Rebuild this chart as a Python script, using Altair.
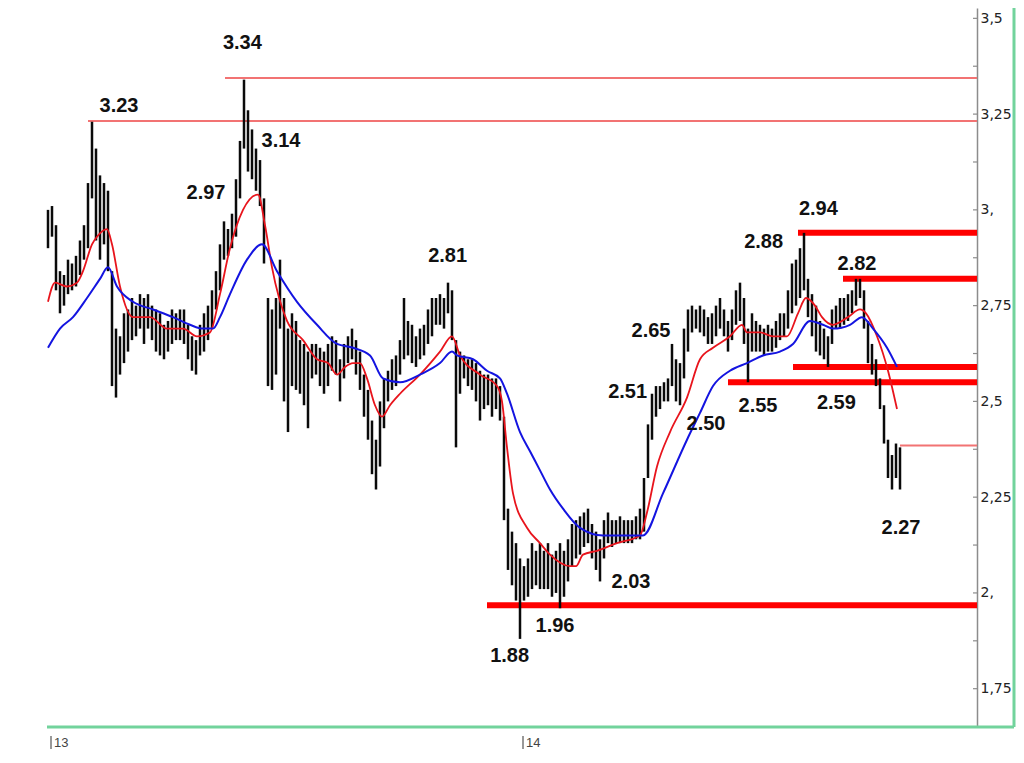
import altair as alt
import pandas as pd

# ---- price bars (one bar per slot, high / low) ----
bar_high = [3.00, 3.01, 2.96, 2.84, 2.83, 2.87, 2.86, 2.88, 2.92, 2.96,
            3.07, 3.23, 3.16, 3.09, 3.07, 3.05, 2.84, 2.69, 2.67, 2.73,
            2.74, 2.77, 2.75, 2.78, 2.77, 2.78, 2.75, 2.74, 2.73, 2.70,
            2.71, 2.74, 2.73, 2.74, 2.74, 2.70, 2.67, 2.66, 2.70, 2.73,
            2.75, 2.79, 2.84, 2.91, 2.97, 2.95, 2.99, 3.08, 3.18, 3.34,
            3.26, 3.21, 3.16, 3.13, 3.03, 2.77, 2.74, 2.77, 2.87, 2.77,
            2.69, 2.73, 2.71, 2.66, 2.65, 2.63, 2.65, 2.65, 2.64, 2.63,
            2.65, 2.67, 2.66, 2.61, 2.65, 2.67, 2.69, 2.66, 2.63, 2.57,
            2.53, 2.45, 2.40, 2.50, 2.56, 2.58, 2.61, 2.62, 2.66, 2.77,
            2.71, 2.70, 2.67, 2.69, 2.70, 2.74, 2.77, 2.77, 2.78, 2.77,
            2.81, 2.79, 2.66, 2.63, 2.62, 2.61, 2.61, 2.60, 2.58, 2.57,
            2.57, 2.56, 2.56, 2.54, 2.46, 2.22, 2.16, 2.13, 2.09, 2.07,
            2.09, 2.13, 2.11, 2.13, 2.11, 2.13, 2.10, 2.11, 2.13, 2.11,
            2.14, 2.18, 2.19, 2.20, 2.21, 2.22, 2.18, 2.16, 2.14, 2.19,
            2.21, 2.19, 2.19, 2.20, 2.19, 2.19, 2.19, 2.20, 2.22, 2.30,
            2.44, 2.52, 2.54, 2.54, 2.55, 2.56, 2.65, 2.61, 2.60, 2.69,
            2.74, 2.75, 2.74, 2.75, 2.74, 2.72, 2.73, 2.75, 2.77, 2.74,
            2.71, 2.74, 2.79, 2.81, 2.77, 2.69, 2.73, 2.71, 2.70, 2.69,
            2.70, 2.69, 2.71, 2.73, 2.73, 2.79, 2.86, 2.87, 2.90, 2.94,
            2.82, 2.78, 2.75, 2.71, 2.69, 2.67, 2.74, 2.75, 2.77, 2.77,
            2.78, 2.79, 2.82, 2.82, 2.79, 2.71, 2.65, 2.61, 2.56, 2.49,
            2.40, 2.36, 2.39, 2.38]
bar_low = [2.90, 2.93, 2.79, 2.73, 2.75, 2.78, 2.79, 2.80, 2.83, 2.87,
           2.90, 3.03, 2.92, 2.87, 2.91, 2.84, 2.54, 2.51, 2.57, 2.60,
           2.63, 2.66, 2.67, 2.69, 2.65, 2.69, 2.66, 2.63, 2.62, 2.61,
           2.63, 2.65, 2.66, 2.66, 2.65, 2.61, 2.58, 2.57, 2.62, 2.63,
           2.66, 2.69, 2.74, 2.79, 2.87, 2.88, 2.90, 2.93, 3.03, 3.16,
           3.10, 3.08, 3.05, 3.01, 2.86, 2.54, 2.53, 2.57, 2.69, 2.50,
           2.42, 2.54, 2.53, 2.52, 2.49, 2.43, 2.56, 2.57, 2.54, 2.52,
           2.54, 2.58, 2.57, 2.50, 2.56, 2.60, 2.61, 2.57, 2.53, 2.46,
           2.40, 2.31, 2.27, 2.33, 2.43, 2.50, 2.53, 2.54, 2.57, 2.61,
           2.62, 2.60, 2.59, 2.61, 2.62, 2.65, 2.67, 2.70, 2.70, 2.69,
           2.73, 2.66, 2.38, 2.52, 2.56, 2.54, 2.53, 2.50, 2.45, 2.48,
           2.49, 2.46, 2.48, 2.45, 2.19, 2.06, 2.02, 1.98, 1.88, 1.98,
           1.99, 2.01, 2.02, 2.01, 2.01, 2.01, 1.99, 2.00, 1.96, 1.99,
           2.03, 2.07, 2.09, 2.10, 2.12, 2.13, 2.09, 2.06, 2.03, 2.09,
           2.13, 2.12, 2.13, 2.13, 2.13, 2.13, 2.13, 2.14, 2.14, 2.16,
           2.30, 2.40, 2.46, 2.48, 2.50, 2.50, 2.54, 2.50, 2.49, 2.56,
           2.63, 2.68, 2.69, 2.68, 2.67, 2.65, 2.65, 2.67, 2.69, 2.67,
           2.63, 2.66, 2.70, 2.71, 2.65, 2.55, 2.63, 2.63, 2.63, 2.62,
           2.63, 2.63, 2.64, 2.66, 2.67, 2.69, 2.73, 2.75, 2.77, 2.79,
           2.72, 2.67, 2.63, 2.62, 2.61, 2.59, 2.65, 2.69, 2.69, 2.70,
           2.71, 2.73, 2.75, 2.77, 2.69, 2.60, 2.57, 2.54, 2.48, 2.39,
           2.30, 2.27, 2.30, 2.27]

# ---- moving averages (bar slot, value) ----
red_ma_idx = [0, 1.75, 4.75, 7.25, 8.75, 11, 12.25, 14.75, 16, 18, 21.25, 25.5,
              29.75, 33.75, 37.25, 40.5, 43, 45.5, 48.75, 52.5, 54.25, 56,
              59.75, 63.75, 67.25, 70, 72.25, 74.25, 76.25, 78, 79.75, 81.75,
              83.5, 85.5, 88, 93, 98, 101, 103, 108, 112.25, 113.5, 114.75,
              116.25, 119.75, 123, 125.5, 130.5, 132, 133.75, 137.25, 142.25,
              148, 149.75, 152.25, 155.5, 159.75, 163, 166.25, 170.5, 173.5,
              174.75, 178, 181.25, 184.75, 187.5, 189.5, 191.75, 193.5,
              196.25, 200, 203, 204.5, 207.25, 210, 212.25]
red_ma = [2.76, 2.81, 2.80, 2.81, 2.84, 2.91, 2.93, 2.95, 2.91, 2.80, 2.72, 2.72,
          2.69, 2.69, 2.67, 2.68, 2.78, 2.90, 3.00, 3.04, 2.96, 2.85,
          2.71, 2.66, 2.61, 2.60, 2.57, 2.59, 2.60, 2.60, 2.56, 2.49,
          2.46, 2.49, 2.52, 2.57, 2.63, 2.67, 2.62, 2.57, 2.54, 2.50, 2.38,
          2.26, 2.17, 2.13, 2.10, 2.07, 2.07, 2.10, 2.11, 2.13,
          2.15, 2.21, 2.33, 2.42, 2.51, 2.61, 2.64, 2.67, 2.70,
          2.68, 2.68, 2.67, 2.67, 2.73, 2.77, 2.75, 2.72,
          2.70, 2.72, 2.74, 2.73, 2.67, 2.58, 2.48]
blue_ma_idx = [0, 3, 6.25, 9.75, 13, 15, 17.25, 21.25, 26.25, 31.25, 35.5, 38.75,
               41.25, 43, 45.5, 49.75, 53.5, 57.25, 62.25, 67.25, 72.25, 76.25,
               80.5, 83.75, 88, 93, 98, 101, 102.25, 106.25, 109.75, 113,
               114.75, 118, 120.5, 123, 125.5, 128.75, 133, 138.75, 148.75,
               153.75, 159.75, 163, 166.25, 170.5, 174.75, 178.75, 183, 186.25,
               190.5, 193.75, 196.25, 200.5, 203.5, 206.25, 209.75, 212.25]
blue_ma = [2.64, 2.69, 2.72, 2.77, 2.82, 2.85, 2.80, 2.76, 2.74, 2.72, 2.70, 2.69,
           2.69, 2.72, 2.78, 2.87, 2.91, 2.84, 2.76, 2.70, 2.65, 2.64,
           2.62, 2.56, 2.55, 2.57, 2.60, 2.63, 2.62, 2.61, 2.58, 2.56,
           2.52, 2.42, 2.37, 2.32, 2.27, 2.22, 2.17, 2.15, 2.15,
           2.26, 2.40, 2.47, 2.54, 2.58, 2.60, 2.62, 2.63, 2.65,
           2.71, 2.70, 2.69, 2.70, 2.72, 2.69, 2.64, 2.59]

# ---- support / resistance levels ----
level_price = [3.344, 3.232, 2.94, 2.82, 2.59, 2.55, 1.968, 2.385]
level_start = [44.25, 10, 187.5, 198.75, 186.25, 170, 109.75, 213]
level_heavy = [False, False, True, True, True, True, True, False]

# ---- annotations ----
ann_text = ["3.34", "3.23", "3.14", "2.97", "2.81", "2.94", "2.88", "2.82", "2.65",
            "2.51", "2.50", "2.55", "2.59", "2.27", "2.03", "1.96", "1.88"]
ann_idx = [48.6, 17.75, 58.25, 39.5, 99.9, 192.6, 178.9, 202.25, 150.75,
           144.9, 164.5, 177.5, 197.1, 213.25, 145.75, 126.75, 115.4]
ann_price = [3.436, 3.271, 3.180, 3.044, 2.880, 3.002, 2.916, 2.859, 2.684,
             2.525, 2.441, 2.488, 2.496, 2.169, 2.029, 1.914, 1.835]

# ---- axes ----
y_tick_values = [1.75, 2.0, 2.25, 2.5, 2.75, 3.0, 3.25, 3.5]
y_minor_ticks = [1.75, 1.875, 2.0, 2.125, 2.25, 2.375, 2.5, 2.625, 2.75, 2.875,
                 3.0, 3.125, 3.25, 3.375, 3.5]
x_tick_idx = [0.75, 118.75]
x_tick_labels = ["13", "14"]

bars = pd.DataFrame({"idx": list(range(len(bar_high))), "hi": bar_high, "lo": bar_low})
red_df = pd.DataFrame({"idx": red_ma_idx, "v": red_ma})
blue_df = pd.DataFrame({"idx": blue_ma_idx, "v": blue_ma})
lev = pd.DataFrame({"p": level_price, "s": level_start, "heavy": level_heavy})
ann = pd.DataFrame({"t": ann_text, "idx": ann_idx, "p": ann_price})
minor = pd.DataFrame({"v": y_minor_ticks})
xt = pd.DataFrame({"idx": x_tick_idx, "lab": x_tick_labels})
one = pd.DataFrame({"a": [0]})

W, H = 930, 719
xs = alt.Scale(domain=[-0.25, 232.25], nice=False, zero=False)
ys = alt.Scale(domain=[1.650, 3.527], nice=False, zero=False)
yax = alt.Axis(orient="right", values=y_tick_values,
               labelExpr="replace(datum.value % 1 == 0 ? datum.value + ',' : '' + datum.value, '.', ',')",
               ticks=False, grid=False, domainColor="#8c8c8c", domainWidth=1.5,
               labelFont="DejaVu Sans", labelFontSize=14, labelColor="#222222",
               labelPadding=3, title=None)

def X(field):
    return alt.X(field, type="quantitative", scale=xs, axis=None)

def Y(field):
    return alt.Y(field, type="quantitative", scale=ys, axis=yax)

bar_layer = alt.Chart(bars).mark_rule(color="#0a0a0a", strokeWidth=2.5).encode(
    x=X("idx"), y=Y("lo"), y2="hi")

red_layer = alt.Chart(red_df).mark_line(color="#e8141c", strokeWidth=1.8,
                                        interpolate="monotone").encode(x=X("idx"), y=Y("v"))
blue_layer = alt.Chart(blue_df).mark_line(color="#1414e0", strokeWidth=2,
                                          interpolate="monotone").encode(x=X("idx"), y=Y("v"))

thin_lev = alt.Chart(lev).transform_filter("!datum.heavy").mark_rule(
    color="#f27373", strokeWidth=2).encode(x=X("s"), x2=alt.value(W), y=Y("p"))
thick_lev = alt.Chart(lev).transform_filter("datum.heavy").mark_rule(
    color="#ff0000", strokeWidth=6).encode(x=X("s"), x2=alt.value(W), y=Y("p"))

ann_layer = alt.Chart(ann).mark_text(font="Liberation Sans", fontSize=20, fontWeight="bold",
                                     color="#111111", align="center", baseline="middle").encode(
    x=X("idx"), y=Y("p"), text="t:N")

minor_layer = alt.Chart(minor).mark_rule(color="#8c8c8c", strokeWidth=1.2).encode(
    x=alt.value(W - 4), x2=alt.value(W), y=Y("v"))

green_bottom = alt.Chart(one).mark_rule(color="#72d39c", strokeWidth=3).encode(
    x=alt.value(0), x2=alt.value(967), y=alt.value(H))
green_right = alt.Chart(one).mark_rule(color="#72d39c", strokeWidth=3).encode(
    x=alt.value(967), y=alt.value(0), y2=alt.value(H))

xtick_layer = alt.Chart(xt).mark_rule(color="#555555", strokeWidth=1.2).encode(
    x=X("idx"), y=alt.value(H + 9), y2=alt.value(H + 22))
xlab_layer = alt.Chart(xt).mark_text(align="left", dx=3, baseline="middle", fontSize=13,
                                     font="Liberation Sans", color="#444444").encode(
    x=X("idx"), y=alt.value(H + 16), text="lab:N")

chart = alt.layer(
    thin_lev, thick_lev, bar_layer, red_layer, blue_layer, minor_layer, ann_layer,
    green_bottom, green_right, xtick_layer, xlab_layer
).properties(
    width=W, height=H,
    padding={"left": 39, "top": 0, "right": 39, "bottom": 22},
    autosize=alt.AutoSizeParams(type="none"),
    background="white",
).configure_view(stroke=None)

chart.save("out.html", embed_options={"renderer": "svg", "actions": False})
